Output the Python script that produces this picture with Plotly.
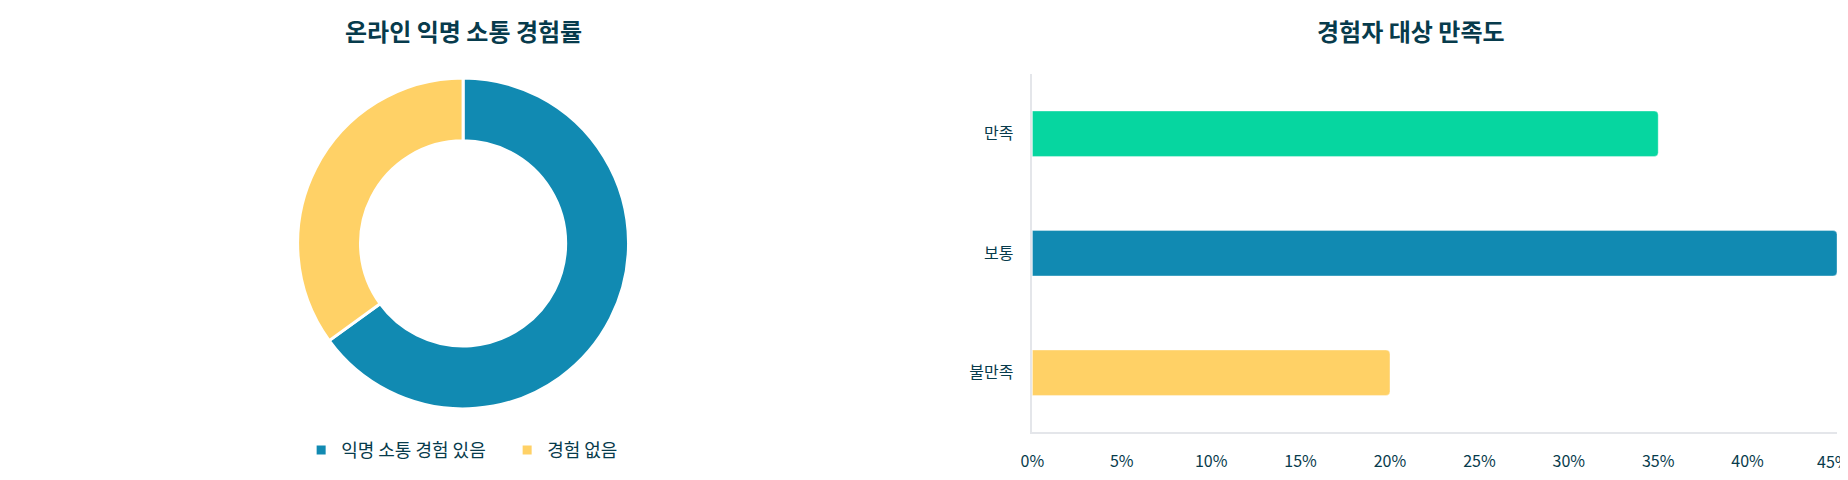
import plotly.graph_objects as go

# donut: online anonymous communication experience
exp_labels = ['익명 소통 경험 있음', '경험 없음']
exp_values = [65, 35]
exp_colors = ['#118AB2', '#FFD166']

# bars: satisfaction among experienced users
sat_labels = ['만족', '보통', '불만족']
sat_values = [35, 45, 20]
sat_colors = ['#06D6A0', '#118AB2', '#FFD166']

x_ticks = [0, 5, 10, 15, 20, 25, 30, 35, 40, 45]
x_ticktext = [f'{v}%' for v in x_ticks]

# page is 1848x480 and the body has an 8px margin
W, H = 1832, 464
OFF = 8
TEXT = '#073B4C'
FONT = 'Noto Sans CJK KR'

# left panel centre (page px)
CX = 454


def px(x):
    return (x - OFF) / W


def py(y):
    return 1 - (y - OFF) / H


fig = go.Figure()

fig.add_trace(go.Pie(
    labels=exp_labels,
    values=exp_values,
    hole=0.62,
    sort=False,
    direction='clockwise',
    rotation=0,
    textinfo='none',
    marker=dict(colors=exp_colors, line=dict(color='white', width=3)),
    domain=dict(x=[px(CX - 168), px(CX + 168)],
                y=[py(247 + 168), py(247 - 168)]),
    showlegend=True,
))

fig.add_trace(go.Bar(
    x=sat_values,
    y=sat_labels,
    orientation='h',
    marker=dict(color=sat_colors, line=dict(width=1, color='rgba(255,255,255,0.35)')),
    showlegend=False,
    xaxis='x',
    yaxis='y',
))

fig.update_layout(
    width=W,
    height=H,
    margin=dict(l=0, r=0, t=0, b=0),
    paper_bgcolor='white',
    plot_bgcolor='white',
    font=dict(family=FONT, size=16, color=TEXT),
    bargap=0.62,
    barcornerradius=4,
    xaxis=dict(
        domain=[px(1027), px(1837)],
        range=[x_ticks[0], x_ticks[-1]],
        # last label sits on the page edge, drawn separately below
        tickvals=x_ticks[:-1],
        ticktext=x_ticktext[:-1],
        showgrid=False,
        zeroline=False,
        showline=True,
        linecolor='#e4e6ea',
        linewidth=1.5,
        ticks='',
        ticklabelstandoff=14,
        tickfont=dict(size=16, color=TEXT),
        fixedrange=True,
    ),
    yaxis=dict(
        domain=[py(439), py(75)],
        autorange='reversed',
        showgrid=False,
        zeroline=False,
        showline=True,
        linecolor='#e4e6ea',
        linewidth=1.5,
        ticks='',
        ticklabelstandoff=14,
        tickfont=dict(size=16, color=TEXT),
    ),
    legend=dict(
        orientation='h',
        x=px(291),
        xanchor='left',
        y=py(457),
        yanchor='middle',
        font=dict(size=18, color=TEXT),
        entrywidth=161,
    ),
    annotations=[
        dict(text='<b>온라인 익명 소통 경험률</b>', x=px(CX), y=py(31),
             xref='paper', yref='paper', xanchor='center', yanchor='middle',
             showarrow=False, font=dict(size=24, color=TEXT, family=FONT)),
        dict(text='<b>경험자 대상 만족도</b>', x=px(1408), y=py(31),
             xref='paper', yref='paper', xanchor='center', yanchor='middle',
             showarrow=False, font=dict(size=24, color=TEXT, family=FONT)),
        dict(text=x_ticktext[-1], x=x_ticks[-1], xref='x', xanchor='center', xshift=-4,
             y=py(468), yref='paper', yanchor='middle',
             showarrow=False, font=dict(size=16, color=TEXT, family=FONT)),
    ],
)

fig.write_html('out.html')
